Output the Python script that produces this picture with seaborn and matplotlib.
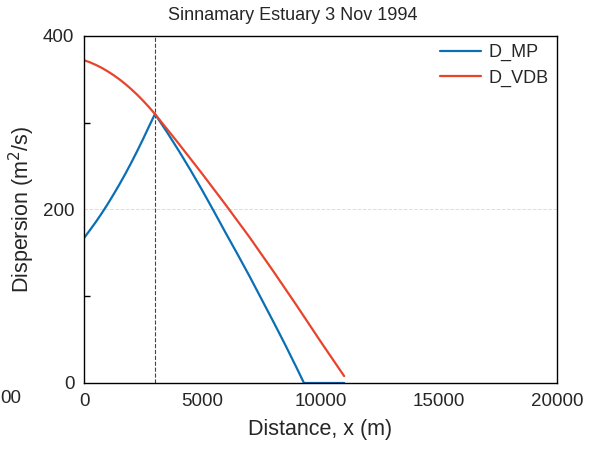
import pandas as pd
import seaborn as sns
import matplotlib.pyplot as plt

# distances along the estuary (m) and dispersion coefficients (m2/s)
dist_mp = [0, 250, 500, 750, 1000, 1250, 1500, 1750, 2000, 2250, 2500, 2750,
           3000, 3500, 4000, 4500, 5000, 5500, 6000, 6500, 7000, 7500, 8000,
           8500, 9000, 9300, 10000, 11000]
d_mp = [167, 176.2, 185.6, 195.6, 206.2, 217.4, 229.0, 241.2, 254.0, 267.4,
        281.3, 295.8, 310, 289.5, 268, 245.5, 222, 197.5, 172.5, 148, 123,
        97, 71, 44.5, 17, 0, 0, 0]

dist_vdb = [0, 250, 500, 750, 1000, 1250, 1500, 1750, 2000, 2250, 2500, 2750,
            3000, 4000, 5000, 6000, 7000, 8000, 9000, 10000, 11000]
d_vdb = [372, 369.6, 366.6, 363.2, 359.2, 354.8, 349.9, 344.5, 338.6, 332.2,
         325.3, 317.9, 310, 276, 241, 205, 168, 129, 89, 48, 8]

x_split = 3000

sns.set_style("white")
plt.rcParams['font.family'] = ['Liberation Sans', 'DejaVu Sans']

df = pd.concat([
    pd.DataFrame({'x': dist_mp, 'D': d_mp, 'series': 'D_MP'}),
    pd.DataFrame({'x': dist_vdb, 'D': d_vdb, 'series': 'D_VDB'}),
])

fig = plt.figure(figsize=(5.9, 4.49), dpi=100)
ax = fig.add_axes([0.1424, 0.147, 0.8016, 0.773])

ax.axhline(200, color='#dddddd', lw=0.7, ls='--', zorder=0)
ax.axvline(x_split, color='#444444', lw=0.8, ls='--', zorder=1)

sns.lineplot(data=df, x='x', y='D', hue='series', sort=False,
             palette={'D_MP': '#0a6fb5', 'D_VDB': '#e8432b'},
             linewidth=1.6, ax=ax)

ax.set_xlim(0, 20000)
ax.set_ylim(0, 400)
ax.set_xticks([0, 5000, 10000, 15000, 20000])
ax.set_yticks([0, 200, 400])
ax.set_yticks([100, 300], minor=True)
ax.tick_params(which='both', direction='in', labelsize=13.5, color='black')
ax.tick_params(which='major', length=5, width=1)
ax.tick_params(which='minor', length=4, width=1, left=True)
ax.tick_params(axis='x', pad=7)
ax.tick_params(axis='y', pad=7)

for s in ax.spines.values():
    s.set_color('black')
    s.set_linewidth(1)

fig.text(0.496, 0.966, 'Sinnamary Estuary 3 Nov 1994', fontsize=13,
         ha='center', va='center')
ax.set_xlabel('Distance, x (m)', fontsize=15.5, labelpad=7)
ax.set_ylabel('Dispersion (m$^2$/s)', fontsize=15.5, labelpad=4)

ax.legend(loc='upper right', frameon=False, fontsize=13, handlelength=2.3,
          borderaxespad=0.05, handletextpad=0.4, labelspacing=0.45)

# clipped leftover label at the figure's left edge
fig.text(0.0, 0.102, '00', fontsize=13.5, ha='left', va='baseline')

fig.savefig('out.png', dpi=100)
